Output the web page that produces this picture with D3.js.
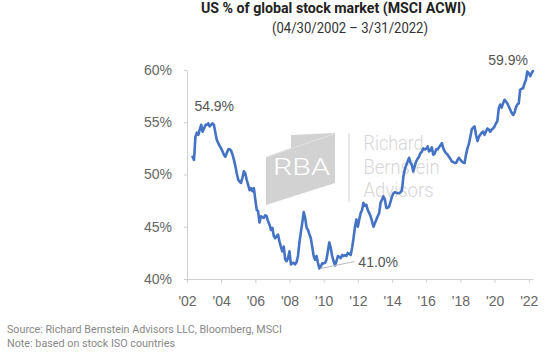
<!DOCTYPE html>
<html>
<head>
<meta charset="utf-8">
<script src="https://cdn.jsdelivr.net/npm/d3@7"></script>
<style>
  html, body { margin: 0; padding: 0; background: #fff; }
  svg { display: block; }
</style>
</head>
<body>
<div id="chart"></div>
<script>
// ---------------- DATA ----------------
const startMonth = [2002, 4];   // April 2002 (month-end values)
const usShare = [
  51.7, 51.4, 53.6, 54.0, 53.8, 54.3, 54.75, 54.1, 54.4, 54.75,
  54.75, 54.9, 54.6, 54.75, 54.9, 54.75, 54.0, 53.3, 53.0, 52.75,
  52.5, 52.2, 51.9, 51.7, 52.05, 52.4, 52.4, 52.3, 51.9, 51.4,
  50.8, 50.1, 49.5, 49.3, 49.2, 49.7, 50.3, 50.1, 49.5, 49.0,
  48.5, 48.7, 48.4, 48.7, 47.6, 46.6, 46.5, 45.4, 46.0, 45.9,
  45.85, 46.1, 46.0, 45.5, 45.2, 44.7, 44.9, 44.1, 43.9, 44.1,
  44.25, 43.6, 43.1, 42.65, 43.1, 41.9, 41.7, 42.0, 42.65, 41.4,
  41.5, 41.55, 41.4, 41.6, 42.2, 43.5, 44.5, 45.4, 46.4, 45.85,
  44.9, 44.7, 44.3, 43.9, 43.1, 42.2, 41.85, 42.2, 41.55, 41.0,
  41.2, 41.5, 41.5, 41.55, 41.85, 42.65, 43.5, 43.0, 42.2, 41.7,
  41.3, 41.7, 42.2, 42.1, 42.0, 42.3, 42.2, 42.3, 42.2, 42.5,
  42.4, 42.3, 43.0, 43.9, 45.0, 45.7, 45.0, 45.7, 46.3, 46.6,
  47.3, 47.0, 47.1, 46.6, 46.3, 46.0, 45.5, 45.0, 45.35, 45.7,
  46.0, 46.3, 47.3, 47.6, 47.9, 47.6, 46.8, 46.8, 46.95, 47.4,
  47.9, 48.2, 48.3, 48.25, 48.2, 48.2, 48.3, 48.5, 49.8, 50.5,
  50.9, 51.25, 51.6, 51.1, 50.9, 50.3, 50.8, 51.25, 51.5, 51.7,
  52.05, 52.2, 52.5, 52.4, 52.45, 52.7, 52.2, 52.3, 52.6, 51.9,
  52.0, 52.4, 52.4, 52.6, 52.8, 53.0, 52.5, 52.2, 52.05, 51.9,
  51.7, 51.5, 51.25, 51.2, 51.1, 51.1, 51.4, 51.6, 51.4, 51.25,
  51.15, 51.1, 51.9, 52.5, 52.9, 53.6, 54.3, 54.5, 54.6, 53.8,
  53.2, 53.6, 53.8, 54.0, 54.1, 53.8, 54.1, 54.4, 54.3, 54.1,
  54.3, 54.4, 54.6, 54.9, 55.1, 56.35, 56.7, 56.4, 56.8, 57.15,
  57.0, 56.8, 56.5, 56.2, 55.9, 55.7, 55.9, 56.4, 56.7, 56.8,
  58.1, 58.2, 58.25, 58.7, 59.05, 59.85, 59.7, 59.4, 59.7, 59.9
];
const yTicks = [40, 45, 50, 55, 60];
const xTickYears = [2002, 2004, 2006, 2008, 2010, 2012, 2014, 2016, 2018, 2020, 2022];
const titleText = "US % of global stock market (MSCI ACWI)";
const subtitleText = "(04/30/2002 \u2013 3/31/2022)";
const annotations = [
  { index: 11, label: "54.9%" },
  { index: 89, label: "41.0%" },
  { index: 239, label: "59.9%" }
];
const sourceLines = [
  "Source: Richard Bernstein Advisors LLC, Bloomberg, MSCI",
  "Note: based on stock ISO countries"
];
const logoWords = ["Richard", "Bernstein", "Advisors"];

// month-end dates for each value
const data = usShare.map((v, i) => ({
  date: new Date(startMonth[0], startMonth[1] - 1 + i + 1, 0),
  value: v
}));

// ---------------- CHART ----------------
const W = 555, H = 357;
const svg = d3.select("#chart").append("svg")
  .attr("width", W).attr("height", H)
  .style("font-family", "'Liberation Sans', Arial, sans-serif");

svg.append("rect").attr("width", W).attr("height", H).attr("fill", "#fff");

const x = d3.scaleTime()
  .domain([new Date(2002, 0, 1), new Date(2022, 3, 1)])
  .range([187, 533]);
const y = d3.scaleLinear().domain([40, 60]).range([279, 70]);

// Title
svg.append("text")
  .attr("x", 201).attr("y", 12.5)
  .attr("textLength", 265).attr("lengthAdjust", "spacingAndGlyphs")
  .attr("font-family", "Roboto, 'Liberation Sans', Arial, sans-serif")
  .attr("font-weight", 700).attr("font-size", 15).attr("fill", "#222")
  .text(titleText);
svg.append("text")
  .attr("x", 272).attr("y", 33)
  .attr("textLength", 156).attr("lengthAdjust", "spacingAndGlyphs")
  .attr("font-family", "Roboto, 'Liberation Sans', Arial, sans-serif")
  .attr("font-size", 14.5).attr("fill", "#333")
  .text(subtitleText);

// Watermark logo
const wm = svg.append("g").attr("class", "watermark");
wm.append("polygon")
  .attr("points", "266,157 291,148 291,135 335,133 335,183 266,205")
  .attr("fill", "#d2d2d2");
wm.append("line")
  .attr("x1", 267).attr("y1", 157).attr("x2", 334).attr("y2", 134)
  .attr("stroke", "#e2e2e2").attr("stroke-width", 1);
wm.append("text")
  .attr("x", 273).attr("y", 175)
  .attr("textLength", 57).attr("lengthAdjust", "spacingAndGlyphs")
  .attr("font-family", "Roboto, 'Liberation Sans', sans-serif")
  .attr("font-weight", 300).attr("font-size", 24).attr("fill", "#fff")
  .text("RBA");
wm.append("line")
  .attr("x1", 349).attr("y1", 133).attr("x2", 349).attr("y2", 202)
  .attr("stroke", "#dcdcdc").attr("stroke-width", 1.2);
const wordLens = [60, 76, 70];
const wordYs = [150, 173.5, 196.5];
logoWords.forEach((w, i) => {
  wm.append("text")
    .attr("x", 363.5).attr("y", wordYs[i])
    .attr("textLength", wordLens[i]).attr("lengthAdjust", "spacingAndGlyphs")
    .attr("font-family", "Roboto, 'Liberation Sans', sans-serif")
    .attr("font-weight", 300).attr("font-size", 21).attr("fill", "#d6d6d6")
    .text(w);
});

// Axes
const xAxis = d3.axisBottom(x)
  .tickValues(xTickYears.map(yr => new Date(yr, 0, 1)))
  .tickFormat(d3.timeFormat("'%y"))
  .tickSizeInner(4).tickSizeOuter(0).tickPadding(13);
const gx = svg.append("g").attr("transform", "translate(0,279)").call(xAxis);
gx.select(".domain").attr("stroke", "#d0d0d0");
gx.selectAll(".tick line").attr("stroke", "#d0d0d0");
gx.selectAll(".tick text")
  .attr("font-family", "'Liberation Sans', Arial, sans-serif")
  .attr("font-size", 14).attr("fill", "#666");

const yAxis = d3.axisLeft(y)
  .tickValues(yTicks)
  .tickFormat(d => d + "%")
  .tickSizeInner(3).tickSizeOuter(0).tickPadding(12);
const gy = svg.append("g").attr("transform", "translate(187,0)").call(yAxis);
gy.select(".domain").attr("stroke", "#d0d0d0");
gy.selectAll(".tick line").attr("stroke", "#d0d0d0");
gy.selectAll(".tick text")
  .attr("font-family", "'Liberation Sans', Arial, sans-serif")
  .attr("font-size", 14).attr("fill", "#666");

// Line
const line = d3.line()
  .x(d => x(d.date))
  .y(d => y(d.value))
  .curve(d3.curveLinear);
svg.append("path")
  .datum(data)
  .attr("fill", "none")
  .attr("stroke", "#4472c4")
  .attr("stroke-width", 2.6)
  .attr("stroke-linejoin", "round")
  .attr("stroke-linecap", "round")
  .attr("d", line);

// Annotations
const annStyle = sel => sel
  .attr("font-family", "'Liberation Sans', Arial, sans-serif")
  .attr("font-size", 14).attr("fill", "#555");

const a0 = data[annotations[0].index];
svg.append("text").call(annStyle)
  .attr("x", x(a0.date) + 6).attr("y", y(a0.value) - 12)
  .attr("text-anchor", "middle")
  .text(annotations[0].label);

const a1 = data[annotations[1].index];
svg.append("line")
  .attr("x1", x(a1.date) + 1).attr("y1", y(a1.value))
  .attr("x2", x(a1.date) + 35).attr("y2", y(a1.value) - 7)
  .attr("stroke", "#bbb").attr("stroke-width", 1);
svg.append("text").call(annStyle)
  .attr("x", x(a1.date) + 39).attr("y", y(a1.value) - 1.5)
  .text(annotations[1].label);

const a2 = data[annotations[2].index];
svg.append("text").call(annStyle)
  .attr("x", x(a2.date) - 5).attr("y", y(a2.value) - 6)
  .attr("text-anchor", "end")
  .text(annotations[2].label);

// Footer
const footLens = [275, 168];
sourceLines.forEach((t, i) => {
  svg.append("text")
    .attr("x", 7).attr("y", 333 + i * 14)
    .attr("textLength", footLens[i]).attr("lengthAdjust", "spacingAndGlyphs")
    .attr("font-family", "Roboto, 'Liberation Sans', Arial, sans-serif")
    .attr("font-size", 10).attr("fill", "#888")
    .text(t);
});
</script>
</body>
</html>
